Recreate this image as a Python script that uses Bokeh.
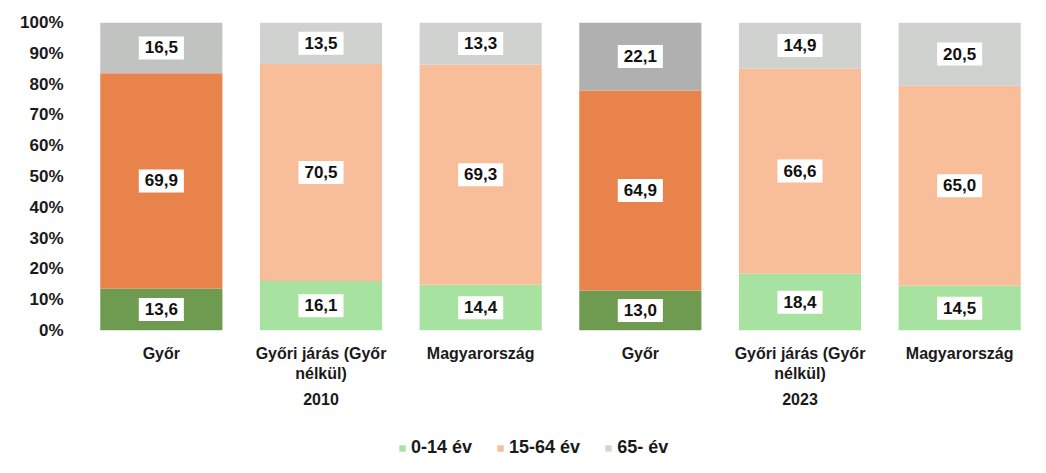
from bokeh.plotting import figure
from bokeh.layouts import column
from bokeh.models import (ColumnDataSource, FactorRange, NumeralTickFormatter,
                          FixedTicker, Legend, LegendItem, Range1d)
from bokeh.core.properties import value
from bokeh.embed import file_html
from bokeh.resources import INLINE

years = ["2010", "2023"]
areas = ["Győr", "Győri járás (Győr\nnélkül)", "Magyarország"]
series_names = ["0-14 év", "15-64 év", "65- év"]
age_0_14 = [13.6, 16.1, 14.4, 13.0, 18.4, 14.5]
age_15_64 = [69.9, 70.5, 69.3, 64.9, 66.6, 65.0]
age_65 = [16.5, 13.5, 13.3, 22.1, 14.9, 20.5]
y_ticks = [0, 0.1, 0.2, 0.3, 0.4, 0.5, 0.6, 0.7, 0.8, 0.9, 1.0]

# colours per bar (Győr highlighted)
col_0_14 = ["#6f9b50", "#a8e2a0", "#a8e2a0", "#6f9b50", "#a8e2a0", "#a8e2a0"]
col_15_64 = ["#e8844b", "#f8be99", "#f8be99", "#e8844b", "#f8be99", "#f8be99"]
col_65 = ["#c1c3c1", "#cfd2cf", "#cfd2cf", "#afb0af", "#cfd2cf", "#cfd2cf"]
legend_colors = ["#a8e2a0", "#f8be99", "#d3d5d3"]

factors = [(y, a) for y in years for a in areas]

FONT = "Liberation Sans"
TXT = "#1a1a1a"

p = figure(x_range=FactorRange(*factors, group_padding=0, factor_padding=0),
           y_range=(0, 1), frame_width=958, frame_height=308,
           output_backend="svg", toolbar_location=None)
p.x_range.range_padding = 0
p.min_border_left = 81
p.min_border_top = 22
p.min_border_right = 0
p.min_border_bottom = 90
p.outline_line_color = None
p.xgrid.grid_line_color = None
p.ygrid.grid_line_color = None

series = [age_0_14, age_15_64, age_65]
colors = [col_0_14, col_15_64, col_65]
totals = [sum(v) for v in zip(*series)]
bottom = [0.0] * 6
for vals, cols in zip(series, colors):
    shares = [v / t for v, t in zip(vals, totals)]
    top = [b + s for b, s in zip(bottom, shares)]
    src = ColumnDataSource(dict(x=factors, bottom=list(bottom), top=top,
                                mid=[(b + t) / 2 for b, t in zip(bottom, top)],
                                color=cols,
                                label=[f"{v:.1f}".replace(".", ",") for v in vals]))
    p.vbar(x="x", bottom="bottom", top="top", width=0.765, source=src,
           fill_color="color", line_color=None)
    p.text(x="x", y="mid", text="label", source=src,
           text_align="center", text_baseline="middle",
           text_font=value(FONT), text_font_style="bold", text_font_size="17px",
           text_color="#111111",
           background_fill_color="white", padding=[6, 6, 5, 6])
    bottom = top

p.yaxis.ticker = FixedTicker(ticks=y_ticks)
p.yaxis.formatter = NumeralTickFormatter(format="0%")
p.yaxis.axis_line_color = None
p.yaxis.major_tick_line_color = None
p.yaxis.minor_tick_line_color = None
p.yaxis.major_label_text_font = FONT
p.yaxis.major_label_text_font_style = "bold"
p.yaxis.major_label_text_font_size = "17px"
p.yaxis.major_label_text_color = TXT
p.yaxis.major_label_standoff = 12

p.xaxis.axis_line_color = None
p.xaxis.major_tick_line_color = None
p.xaxis.minor_tick_line_color = None
p.xaxis.separator_line_color = None
p.xaxis.major_label_text_font = FONT
p.xaxis.major_label_text_font_style = "bold"
p.xaxis.major_label_text_font_size = "16px"
p.xaxis.major_label_text_color = TXT
p.xaxis.major_label_standoff = 8
p.xaxis.group_text_font = FONT
p.xaxis.group_text_font_style = "bold"
p.xaxis.group_text_font_size = "16px"
p.xaxis.group_text_color = TXT
p.xaxis.major_label_orientation = "horizontal"
p.xaxis.group_label_orientation = "horizontal"

# legend in its own strip below the chart (frame aligned with the chart's)
lg = figure(width=1039, height=50, x_axis_type=None, y_axis_type=None,
            x_range=Range1d(-1, 0), y_range=Range1d(-1, 0),
            output_backend="svg", toolbar_location=None,
            min_border=0, outline_line_color=None)
lg.xgrid.grid_line_color = None
lg.ygrid.grid_line_color = None
items = []
for n, vals, c in zip(series_names, series, legend_colors):
    r = lg.vbar(x=list(range(len(vals))), top=vals, width=0.5,
                fill_color=c, line_color=None, visible=False)
    items.append(LegendItem(label=n, renderers=[r], index=0))
legend = Legend(items=items, orientation="horizontal", location=(317, 12),
                label_text_font=FONT, label_text_font_style="bold",
                label_text_font_size="18px", label_text_color=TXT,
                glyph_width=8, glyph_height=8, spacing=24, label_standoff=5,
                border_line_color=None, background_fill_alpha=0,
                inactive_fill_alpha=0, padding=0, margin=0)
lg.add_layout(legend, "center")

layout = column(p, lg, spacing=0)
open("out.html", "w").write(file_html(layout, INLINE))
